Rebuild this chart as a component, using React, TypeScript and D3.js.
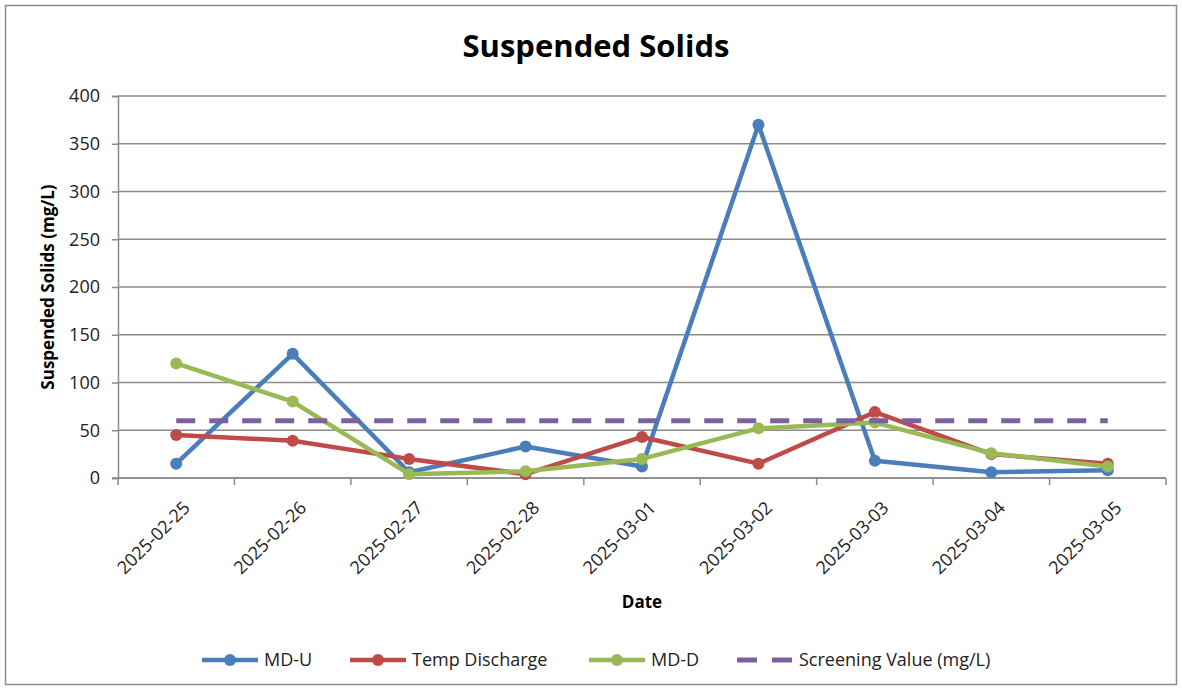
import React, { useEffect, useRef } from "react";
import * as d3 from "d3";

const dates = [
  "2025-02-25",
  "2025-02-26",
  "2025-02-27",
  "2025-02-28",
  "2025-03-01",
  "2025-03-02",
  "2025-03-03",
  "2025-03-04",
  "2025-03-05",
];
const mdU = [15, 130, 6, 33, 12, 370, 18, 6, 8];
const tempDischarge = [45, 39, 20, 4, 43, 15, 69, 25, 15];
const mdD = [120, 80, 4, 7, 20, 52, 58, 26, 12];
const screening = [60, 60, 60, 60, 60, 60, 60, 60, 60];
const yTicks = [0, 50, 100, 150, 200, 250, 300, 350, 400];

const seriesList = [
  { name: "MD-U", values: mdU, color: "#4a7ebb", dashed: false },
  { name: "Temp Discharge", values: tempDischarge, color: "#be4b48", dashed: false },
  { name: "MD-D", values: mdD, color: "#98b954", dashed: false },
  { name: "Screening Value (mg/L)", values: screening, color: "#7d60a0", dashed: true },
];

const font = "'Open Sans', sans-serif";

export default function App() {
  const ref = useRef<SVGSVGElement>(null);

  useEffect(() => {
    const W = 1182,
      H = 690;
    const margin = { top: 96, right: 16, bottom: 212, left: 118 };
    const width = W - margin.left - margin.right;
    const height = H - margin.top - margin.bottom;

    const root = d3.select(ref.current);
    root.selectAll("*").remove();

    root
      .append("rect")
      .attr("x", 5.5)
      .attr("y", 5.5)
      .attr("width", W - 11)
      .attr("height", H - 11)
      .attr("fill", "#fff")
      .attr("stroke", "#8c8c8c")
      .attr("stroke-width", 1.5);

    root
      .append("text")
      .attr("x", 596)
      .attr("y", 57)
      .attr("text-anchor", "middle")
      .attr("font-family", font)
      .attr("font-weight", "bold")
      .attr("font-size", 31)
      .attr("fill", "#000")
      .text("Suspended Solids");

    const svg = root.append("g").attr("transform", `translate(${margin.left},${margin.top})`);

    const x = d3.scaleBand().domain(dates).range([0, width]);
    const y = d3.scaleLinear().domain([0, 400]).range([height, 0]);

    // grid
    svg
      .append("g")
      .selectAll("line")
      .data(yTicks)
      .join("line")
      .attr("x1", 0)
      .attr("x2", width)
      .attr("y1", (d) => y(d))
      .attr("y2", (d) => y(d))
      .attr("stroke", "#8a8a8a")
      .attr("stroke-width", 1.5);

    // y axis
    const yAxis = svg
      .append("g")
      .call(d3.axisLeft(y).tickValues(yTicks).tickSize(6).tickPadding(12));
    yAxis.select(".domain").attr("stroke", "#8a8a8a").attr("stroke-width", 1.5);
    yAxis.selectAll(".tick line").attr("stroke", "#8a8a8a").attr("stroke-width", 1.5);
    yAxis
      .selectAll(".tick text")
      .attr("font-family", font)
      .attr("font-size", 18)
      .attr("fill", "#222");

    // x axis ticks at band boundaries
    const xg = svg.append("g").attr("transform", `translate(0,${height})`);
    xg.append("line")
      .attr("x1", -6)
      .attr("x2", width)
      .attr("stroke", "#8a8a8a")
      .attr("stroke-width", 1.5);
    const bounds = dates.map((d) => x(d) as number).concat([width]);
    xg.selectAll("line.tk")
      .data(bounds)
      .join("line")
      .attr("class", "tk")
      .attr("x1", (d) => d)
      .attr("x2", (d) => d)
      .attr("y1", 0)
      .attr("y2", 7)
      .attr("stroke", "#8a8a8a")
      .attr("stroke-width", 1.5);
    xg.selectAll("text")
      .data(dates)
      .join("text")
      .attr(
        "transform",
        (d) => `translate(${(x(d) as number) + x.bandwidth() / 2 + 6},${22}) rotate(-45)`
      )
      .attr("text-anchor", "end")
      .attr("dy", "0.7em")
      .attr("font-family", font)
      .attr("font-size", 18)
      .attr("fill", "#222")
      .text((d) => d);

    // axis titles
    root
      .append("text")
      .attr("transform", `translate(54,${margin.top + height / 2}) rotate(-90)`)
      .attr("text-anchor", "middle")
      .attr("font-family", font)
      .attr("font-weight", "bold")
      .attr("font-size", 17)
      .attr("fill", "#000")
      .text("Suspended Solids (mg/L)");
    root
      .append("text")
      .attr("x", 642)
      .attr("y", 608)
      .attr("text-anchor", "middle")
      .attr("font-family", font)
      .attr("font-weight", "bold")
      .attr("font-size", 17)
      .attr("fill", "#000")
      .text("Date");

    const cx = (i: number) => (x(dates[i]) as number) + x.bandwidth() / 2;
    const line = d3
      .line<number>()
      .x((_, i) => cx(i))
      .y((d) => y(d));

    seriesList.forEach((s) => {
      svg
        .append("path")
        .datum(s.values)
        .attr("fill", "none")
        .attr("stroke", s.color)
        .attr("stroke-width", s.dashed ? 5 : 4.5)
        .attr("stroke-dasharray", s.dashed ? "19 14" : null)
        .attr("stroke-linejoin", "round")
        .attr("d", line);
      if (!s.dashed) {
        svg
          .append("g")
          .selectAll("circle")
          .data(s.values)
          .join("circle")
          .attr("cx", (_, i) => cx(i))
          .attr("cy", (d) => y(d))
          .attr("r", 6)
          .attr("fill", s.color);
      }
    });

    // legend
    const legendX = [202, 350, 589, 737];
    const legend = root.append("g").attr("transform", "translate(0,660)");
    seriesList.forEach((s, i) => {
      const g = legend.append("g").attr("transform", `translate(${legendX[i]},0)`);
      g.append("line")
        .attr("x1", 0)
        .attr("x2", 56)
        .attr("stroke", s.color)
        .attr("stroke-width", s.dashed ? 5 : 4.5)
        .attr("stroke-dasharray", s.dashed ? "20 15" : null);
      if (!s.dashed) {
        g.append("circle").attr("cx", 28).attr("r", 6).attr("fill", s.color);
      }
      g.append("text")
        .attr("x", 62)
        .attr("dy", "0.35em")
        .attr("font-family", font)
        .attr("font-size", 18)
        .attr("fill", "#222")
        .text(s.name);
    });
  }, []);

  return (
    <svg
      ref={ref}
      width={1182}
      height={690}
      style={{ position: "absolute", left: 0, top: 0, display: "block" }}
    />
  );
}
